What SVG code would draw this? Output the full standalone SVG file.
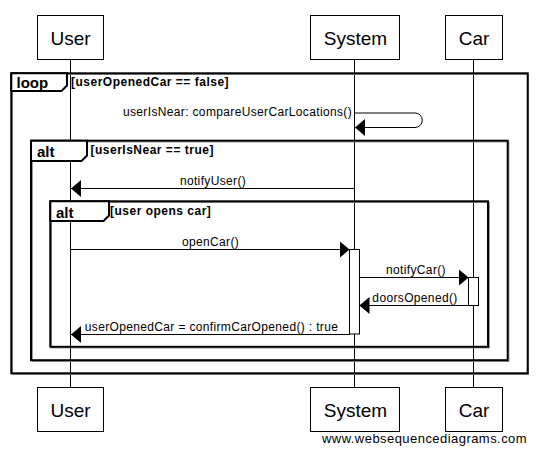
<svg xmlns="http://www.w3.org/2000/svg" width="537" height="455" viewBox="0 0 537 455">
<style>
.box{fill:#fff;stroke:#000;stroke-width:1}
.pt{font-family:"Liberation Sans",Arial,sans-serif;font-size:19px;text-anchor:middle;fill:#000}
.life{stroke:#000;stroke-width:1;fill:none}
.frame{fill:none;stroke:#000;stroke-width:2}
.shadow{fill:none;stroke:#999;stroke-width:1}
.tab{fill:#fff;stroke:#000;stroke-width:2}
.tl{font-family:"Liberation Sans",Arial,sans-serif;font-size:15px;font-weight:bold;fill:#000}
.cond{font-family:"Liberation Sans",Arial,sans-serif;font-size:12px;font-weight:bold;letter-spacing:0.5px;fill:#000}
.msg{stroke:#000;stroke-width:1;fill:none;marker-end:url(#ah)}
.ml{font-family:"Liberation Sans",Arial,sans-serif;font-size:12px;letter-spacing:0.35px;fill:#000}
.act{fill:#fff;stroke:#000;stroke-width:1}
</style>
<defs>
<marker id="ah" markerUnits="userSpaceOnUse" markerWidth="10" markerHeight="17" refX="10" refY="8.5" orient="auto" viewBox="0 0 10 17">
<path d="M0,0 L10,8.5 L0,17 Z" fill="#000"/>
</marker>
</defs>
<rect width="537" height="455" fill="#fff"/>
<g id="lifelines">
<line class="life" x1="70.5" y1="59" x2="70.5" y2="387"/>
<line class="life" x1="354.5" y1="59" x2="354.5" y2="387"/>
<line class="life" x1="473.5" y1="59" x2="473.5" y2="387"/>
</g>
<g id="frame-loop">
<rect class="shadow" x="12.5" y="74.5" width="516" height="300"/>
<rect class="frame" x="11.3" y="73.3" width="516.4" height="300"/>
<path class="tab" d="M11.3,73.3 H67 V85.5 L61.5,91 H11.3 Z"/>
<text class="tl" x="16.5" y="88">loop</text>
<text class="cond" x="71" y="85.5">[userOpenedCar == false]</text>
</g>
<g id="frame-alt1">
<rect class="shadow" x="32.5" y="142" width="476.5" height="219.5"/>
<rect class="frame" x="31" y="140.7" width="476.7" height="219.5"/>
<path class="tab" d="M31,140.7 H87 V155.5 L81.5,161 H31 Z"/>
<text class="tl" x="37" y="157">alt</text>
<text class="cond" x="90.5" y="154">[userIsNear == true]</text>
</g>
<g id="frame-alt2">
<rect class="shadow" x="51.5" y="202.5" width="438" height="145.5"/>
<rect class="frame" x="50.3" y="201.3" width="437.7" height="145.5"/>
<path class="tab" d="M50.3,201.3 H109 V215.5 L103.5,221 H50.3 Z"/>
<text class="tl" x="56" y="217.5">alt</text>
<text class="cond" x="110" y="214.5">[user opens car]</text>
</g>
<g id="participant-user">
<rect class="box" x="37.5" y="15.5" width="66" height="44"/>
<text class="pt" x="70.5" y="45">User</text>
<rect class="box" x="37.5" y="387.5" width="66" height="44"/>
<text class="pt" x="70.5" y="416.5">User</text>
</g>
<g id="participant-system">
<rect class="box" x="310.5" y="15.5" width="89" height="44"/>
<text class="pt" x="355.5" y="45">System</text>
<rect class="box" x="310.5" y="387.5" width="89" height="44"/>
<text class="pt" x="355.5" y="416.5">System</text>
</g>
<g id="participant-car">
<rect class="box" x="445.5" y="15.5" width="57" height="44"/>
<text class="pt" x="474" y="45">Car</text>
<rect class="box" x="445.5" y="387.5" width="57" height="44"/>
<text class="pt" x="474" y="416.5">Car</text>
</g>
<g id="activation-system">
<rect class="act" x="349.5" y="249.5" width="10" height="84.5"/>
</g>
<g id="activation-car">
<rect class="act" x="468.5" y="277.5" width="10" height="28"/>
</g>
<g id="connectors">
<path class="msg" d="M354.5,113 H415 A7,7 0 0 1 415,127.5 H355"/>
<text class="ml" x="352" y="116" text-anchor="end">userIsNear: compareUserCarLocations()</text>
<line class="msg" x1="354.5" y1="188.5" x2="71" y2="188.5"/>
<text class="ml" x="213" y="184.5" text-anchor="middle">notifyUser()</text>
<line class="msg" x1="70.5" y1="249.5" x2="349.5" y2="249.5"/>
<text class="ml" x="210.5" y="245.5" text-anchor="middle">openCar()</text>
<line class="msg" x1="359.5" y1="277.5" x2="468.5" y2="277.5"/>
<text class="ml" x="416" y="274" text-anchor="middle">notifyCar()</text>
<line class="msg" x1="468.5" y1="305.5" x2="359.5" y2="305.5"/>
<text class="ml" x="415" y="301.5" text-anchor="middle">doorsOpened()</text>
<line class="msg" x1="349.5" y1="334.5" x2="71" y2="334.5"/>
<text class="ml" x="211.5" y="330.5" text-anchor="middle">userOpenedCar = confirmCarOpened() : true</text>
</g>
<text x="322" y="443" font-family="Liberation Sans,Arial,sans-serif" font-size="13" letter-spacing="0.45" fill="#000">www.websequencediagrams.com</text>
</svg>
